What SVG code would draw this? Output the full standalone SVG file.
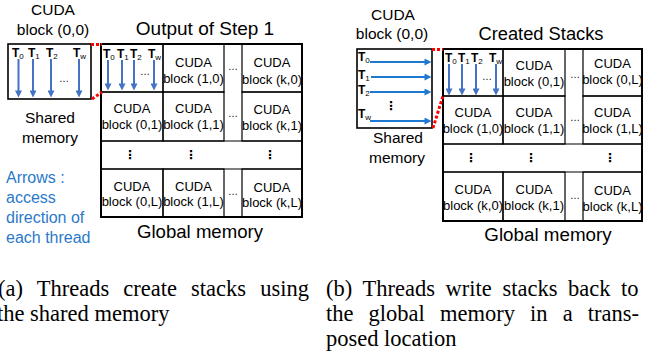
<svg xmlns="http://www.w3.org/2000/svg" width="652" height="358" viewBox="0 0 652 358">
<style>
text{font-family:"Liberation Sans",Arial,sans-serif;fill:#000}
.cell{font-size:13px;text-anchor:middle}
.lbl{font-size:15.5px;text-anchor:middle}
.title{font-size:19px;text-anchor:middle}
.t{font-size:12px;font-weight:bold}
.sub{font-size:8px;font-weight:normal}
.note{font-size:16px;fill:#2B79C9}
.cap{font-family:"Liberation Serif","Times New Roman",serif;font-size:22.5px}
.el{font-size:10px;text-anchor:middle}
.vd{font-family:"DejaVu Sans",sans-serif;font-size:12px;font-weight:bold;text-anchor:middle}
.box{fill:#fff;stroke:#000;stroke-width:1.6}
.outer{fill:#fff;stroke:#000;stroke-width:2}
.c{fill:none;stroke:#000;stroke-width:1.2}
.arr{stroke:#4472C4;stroke-width:2;marker-end:url(#ha)}
.arrb{stroke:#1F78D1;stroke-width:2;marker-end:url(#hb)}
.red{fill:none;stroke:#FF0000;stroke-width:3;stroke-dasharray:3 2}
</style>
<defs>
<marker id="ha" viewBox="0 0 10 10" refX="5" refY="5" markerWidth="8" markerHeight="7" markerUnits="userSpaceOnUse" orient="auto"><path d="M0,0 L10,5 L0,10 z" fill="#4472C4"/></marker>
<marker id="hb" viewBox="0 0 10 10" refX="5" refY="5" markerWidth="8" markerHeight="7" markerUnits="userSpaceOnUse" orient="auto"><path d="M0,0 L10,5 L0,10 z" fill="#1F78D1"/></marker>
</defs>

<!-- Panel (a) -->
<g id="a-shared">
<text class="lbl" x="53" y="15">CUDA</text>
<text class="lbl" x="53" y="35">block (0,0)</text>
<rect class="box" x="8" y="44" width="83" height="55"/>
<text class="t" x="12" y="57">T<tspan class="sub" dy="2">0</tspan></text>
<text class="t" x="28" y="57">T<tspan class="sub" dy="2">1</tspan></text>
<text class="t" x="46" y="57">T<tspan class="sub" dy="2">2</tspan></text>
<text class="t" x="73" y="57">T<tspan class="sub" dy="2">w</tspan></text>
<line class="arr" x1="18.5" y1="59" x2="18.5" y2="94"/>
<line class="arr" x1="33" y1="59" x2="33" y2="94"/>
<line class="arr" x1="51" y1="59" x2="51" y2="94"/>
<line class="arr" x1="79" y1="59" x2="79" y2="94"/>
<text class="el" x="64" y="82">…</text>
<text class="lbl" x="50" y="123">Shared</text>
<text class="lbl" x="50" y="143">memory</text>
</g>

<g id="a-note">
<text class="note" x="6" y="183">Arrows :</text>
<text class="note" x="6" y="203">access</text>
<text class="note" x="6" y="223">direction of</text>
<text class="note" x="6" y="243">each thread</text>
</g>

<g id="a-global">
<text class="title" x="205" y="35">Output of Step 1</text>
<rect class="outer" x="101" y="44" width="201" height="173"/>
<line class="c" x1="101" y1="141" x2="302" y2="141"/>
<line class="c" x1="101" y1="169" x2="302" y2="169"/>
<text class="vd" x="130" y="159">⋮</text>
<text class="vd" x="191" y="159">⋮</text>
<text class="vd" x="270" y="159">⋮</text>
<text class="el" x="233" y="70">…</text>
<text class="el" x="233" y="117">…</text>
<text class="el" x="233" y="195">…</text>
<text class="lbl" x="200" y="238" style="font-size:18.6px">Global memory</text>
</g>
<g id="a-cell-0-0">
<rect class="c" x="101" y="44" width="62" height="48"/>
<text class="t" x="103" y="58">T<tspan class="sub" dy="2">0</tspan></text>
<text class="t" x="117" y="58">T<tspan class="sub" dy="2">1</tspan></text>
<text class="t" x="130" y="58">T<tspan class="sub" dy="2">2</tspan></text>
<text class="t" x="148" y="58">T<tspan class="sub" dy="2">w</tspan></text>
<line class="arr" x1="108" y1="60" x2="108" y2="87"/>
<line class="arr" x1="122" y1="60" x2="122" y2="87"/>
<line class="arr" x1="134" y1="60" x2="134" y2="87"/>
<line class="arr" x1="154" y1="60" x2="154" y2="87"/>
<text class="el" x="145" y="75">…</text>
</g>
<g id="a-cell-1-0"><rect class="c" x="163" y="44" width="61" height="48"/><text class="cell" x="193.5" y="67">CUDA</text><text class="cell" x="193.5" y="83">block (1,0)</text></g>
<g id="a-cell-k-0"><rect class="c" x="242" y="44" width="60" height="48"/><text class="cell" x="272" y="67">CUDA</text><text class="cell" x="272" y="84">block (k,0)</text></g>
<g id="a-cell-0-1"><rect class="c" x="101" y="92" width="62" height="49"/><text class="cell" x="132" y="113">CUDA</text><text class="cell" x="132" y="129">block (0,1)</text></g>
<g id="a-cell-1-1"><rect class="c" x="163" y="92" width="61" height="49"/><text class="cell" x="193.5" y="113">CUDA</text><text class="cell" x="193.5" y="129">block (1,1)</text></g>
<g id="a-cell-k-1"><rect class="c" x="242" y="92" width="60" height="49"/><text class="cell" x="272" y="114">CUDA</text><text class="cell" x="272" y="130">block (k,1)</text></g>
<g id="a-cell-0-L"><rect class="c" x="101" y="169" width="62" height="48"/><text class="cell" x="132" y="191">CUDA</text><text class="cell" x="132" y="206">block (0,L)</text></g>
<g id="a-cell-1-L"><rect class="c" x="163" y="169" width="61" height="48"/><text class="cell" x="193.5" y="191">CUDA</text><text class="cell" x="193.5" y="206">block (1,L)</text></g>
<g id="a-cell-k-L"><rect class="c" x="242" y="169" width="60" height="48"/><text class="cell" x="272" y="192">CUDA</text><text class="cell" x="272" y="207">block (k,L)</text></g>

<!-- Panel (b) -->
<g id="b-shared">
<text class="lbl" x="393" y="20">CUDA</text>
<text class="lbl" x="392" y="39">block (0,0)</text>
<rect class="box" x="357" y="49" width="75" height="79"/>
<text class="t" x="358" y="61">T<tspan class="sub" dy="2">0</tspan></text>
<text class="t" x="358" y="79">T<tspan class="sub" dy="2">1</tspan></text>
<text class="t" x="358" y="94">T<tspan class="sub" dy="2">2</tspan></text>
<text class="t" x="358" y="118">T<tspan class="sub" dy="2">w</tspan></text>
<line class="arrb" x1="370" y1="62" x2="428" y2="62"/>
<line class="arrb" x1="371" y1="77" x2="428" y2="77"/>
<line class="arrb" x1="370" y1="92" x2="428" y2="92"/>
<line class="arrb" x1="370" y1="121" x2="428" y2="121"/>
<text class="vd" x="391" y="110">⋮</text>
<text class="lbl" x="398" y="143">Shared</text>
<text class="lbl" x="397" y="163">memory</text>
</g>

<g id="b-global">
<text class="title" x="541" y="40" style="font-size:18.3px">Created Stacks</text>
<rect class="outer" x="443" y="49" width="199" height="172"/>
<line class="c" x1="443" y1="144" x2="642" y2="144"/>
<line class="c" x1="443" y1="172" x2="642" y2="172"/>
<text class="vd" x="471" y="162">⋮</text>
<text class="vd" x="531" y="162">⋮</text>
<text class="vd" x="610" y="162">⋮</text>
<text class="el" x="575" y="78">…</text>
<text class="el" x="575" y="121">…</text>
<text class="el" x="575" y="199">…</text>
<text class="lbl" x="548" y="241" style="font-size:18.8px">Global memory</text>
</g>
<g id="b-cell-0-0">
<rect class="c" x="443" y="49" width="60" height="47"/>
<text class="t" x="445" y="62">T<tspan class="sub" dy="2">0</tspan></text>
<text class="t" x="458" y="62">T<tspan class="sub" dy="2">1</tspan></text>
<text class="t" x="471" y="62">T<tspan class="sub" dy="2">2</tspan></text>
<text class="t" x="489" y="62">T<tspan class="sub" dy="2">w</tspan></text>
<line class="arr" x1="449" y1="64" x2="449" y2="92"/>
<line class="arr" x1="462" y1="64" x2="462" y2="92"/>
<line class="arr" x1="476" y1="64" x2="476" y2="92"/>
<line class="arr" x1="496" y1="64" x2="496" y2="92"/>
<text class="el" x="487" y="80">…</text>
</g>
<g id="b-cell-0-1"><rect class="c" x="503" y="49" width="62" height="47"/><text class="cell" x="534" y="70">CUDA</text><text class="cell" x="534" y="86">block (0,1)</text></g>
<g id="b-cell-0-L"><rect class="c" x="583" y="49" width="59" height="47"/><text class="cell" x="612.5" y="68">CUDA</text><text class="cell" x="612.5" y="84">block (0,L)</text></g>
<g id="b-cell-1-0"><rect class="c" x="443" y="96" width="60" height="48"/><text class="cell" x="473" y="117">CUDA</text><text class="cell" x="473" y="133">block (1,0)</text></g>
<g id="b-cell-1-1"><rect class="c" x="503" y="96" width="62" height="48"/><text class="cell" x="534" y="117">CUDA</text><text class="cell" x="534" y="133">block (1,1)</text></g>
<g id="b-cell-1-L"><rect class="c" x="583" y="96" width="59" height="48"/><text class="cell" x="612.5" y="117">CUDA</text><text class="cell" x="612.5" y="133">block (1,L)</text></g>
<g id="b-cell-k-0"><rect class="c" x="443" y="172" width="60" height="49"/><text class="cell" x="473" y="194">CUDA</text><text class="cell" x="473" y="210">block (k,0)</text></g>
<g id="b-cell-k-1"><rect class="c" x="503" y="172" width="62" height="49"/><text class="cell" x="534" y="194">CUDA</text><text class="cell" x="534" y="210">block (k,1)</text></g>
<g id="b-cell-k-L"><rect class="c" x="583" y="172" width="59" height="49"/><text class="cell" x="612.5" y="195">CUDA</text><text class="cell" x="612.5" y="211">block (k,L)</text></g>

<g id="connectors">
<line class="red" x1="91" y1="44.5" x2="102" y2="44.5"/>
<line class="red" x1="92" y1="99" x2="102" y2="92"/>
<line class="red" x1="432" y1="49.5" x2="443" y2="49.5"/>
<line class="red" x1="433" y1="128" x2="443" y2="96"/>
</g>

<g id="captions">
<text class="cap" x="-2" y="296" style="word-spacing:8.5px">(a) Threads create stacks using</text>
<text class="cap" x="-3" y="321">the shared memory</text>
<text class="cap" x="326" y="296" style="word-spacing:5px">(b) Threads write stacks back to</text>
<text class="cap" x="326" y="321" style="word-spacing:9.5px">the global memory in a trans-</text>
<text class="cap" x="326" y="346">posed location</text>
</g>
</svg>
